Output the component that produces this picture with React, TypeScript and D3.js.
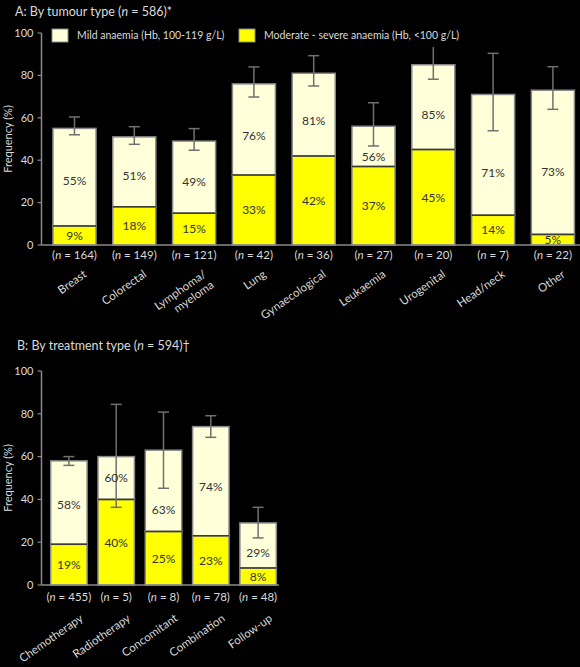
import { useEffect, useRef } from "react";
import * as d3 from "d3";

// ─── Data ─────────────────────────────────────────────────────────────────────

const TUMOUR_CATS = [
  "Breast",
  "Colorectal",
  "Lymphoma/|myeloma",
  "Lung",
  "Gynaecological",
  "Leukaemia",
  "Urogenital",
  "Head/neck",
  "Other",
];
const TUMOUR_N = [164, 149, 121, 42, 36, 27, 20, 7, 22];
const TUMOUR_TOTAL = [55, 51, 49, 76, 81, 56, 85, 71, 73];
const TUMOUR_MODERATE = [9, 18, 15, 33, 42, 37, 45, 14, 5];
const TUMOUR_ERR_LO = [52, 47.5, 44.7, 69.8, 75, 46.7, 78.2, 53.9, 64];
const TUMOUR_ERR_HI = [60.4, 55.8, 54.9, 84, 89.3, 67.1, 94.5, 90.4, 84.1];

const TREAT_CATS = [
  "Chemotherapy",
  "Radiotherapy",
  "Concomitant",
  "Combination",
  "Follow-up",
];
const TREAT_N = [455, 5, 8, 78, 48];
const TREAT_TOTAL = [58, 60, 63, 74, 29];
const TREAT_MODERATE = [19, 40, 25, 23, 8];
const TREAT_ERR_LO = [55.9, 36.3, 45.2, 69, 22];
const TREAT_ERR_HI = [60, 84.4, 80.8, 79.1, 36.3];

const Y_TICKS = [0, 20, 40, 60, 80, 100];

// ─── Palette ──────────────────────────────────────────────────────────────────

const BG = "#000000";
const MILD = "#FFFFD9";
const MODERATE = "#FFFF00";
const OUTLINE = "#8a8a8a";
const DIVIDER = "#3a3a3a";
const ERR = "#707070";
const TEXT = "#dadada";
const INNER_TEXT = "#333333";
const FONT = "Lato, 'DejaVu Sans', sans-serif";

type Panel = {
  cats: string[];
  n: number[];
  total: number[];
  moderate: number[];
  lo: number[];
  hi: number[];
  x0: number;
  x1: number;
  axisEnd: number;
  yTop: number;
  yBottom: number;
  padInner: number;
  padOuter: number;
  labelDx: number;
  labelY: number;
  nY: number;
};

function drawPanel(svg: d3.Selection<SVGSVGElement, unknown, null, undefined>, p: Panel) {
  const g = svg.append("g");
  const x = d3
    .scaleBand<number>()
    .domain(d3.range(p.cats.length))
    .range([p.x0, p.x1])
    .paddingInner(p.padInner)
    .paddingOuter(p.padOuter);
  const y = d3.scaleLinear().domain([0, 100]).range([p.yBottom, p.yTop]);
  const axisX = 41.5;

  // y axis
  g.append("line")
    .attr("x1", axisX)
    .attr("x2", axisX)
    .attr("y1", y(100))
    .attr("y2", y(0))
    .attr("stroke", OUTLINE)
    .attr("stroke-width", 1.5);
  Y_TICKS.forEach((t) => {
    g.append("line")
      .attr("x1", axisX - 4)
      .attr("x2", axisX)
      .attr("y1", y(t))
      .attr("y2", y(t))
      .attr("stroke", OUTLINE)
      .attr("stroke-width", 1.2);
    g.append("text")
      .attr("x", axisX - 8)
      .attr("y", y(t))
      .attr("dy", "0.35em")
      .attr("text-anchor", "end")
      .attr("font-size", 11)
      .attr("fill", TEXT)
      .text(t);
  });
  g.append("text")
    .attr("transform", `translate(12,${(y(0) + y(100)) / 2}) rotate(-90)`)
    .attr("text-anchor", "middle")
    .attr("font-size", 11)
    .attr("fill", TEXT)
    .text("Frequency (%)");

  // bars
  p.cats.forEach((_, i) => {
    const bx = x(i)!;
    const bw = x.bandwidth();
    g.append("rect")
      .attr("x", bx)
      .attr("y", y(p.total[i]))
      .attr("width", bw)
      .attr("height", y(p.moderate[i]) - y(p.total[i]))
      .attr("fill", MILD)
      .attr("stroke", OUTLINE)
      .attr("stroke-width", 1.5);
    g.append("rect")
      .attr("x", bx)
      .attr("y", y(p.moderate[i]))
      .attr("width", bw)
      .attr("height", y(0) - y(p.moderate[i]))
      .attr("fill", MODERATE)
      .attr("stroke", OUTLINE)
      .attr("stroke-width", 1.5);
    g.append("line")
      .attr("x1", bx)
      .attr("x2", bx + bw)
      .attr("y1", y(p.moderate[i]))
      .attr("y2", y(p.moderate[i]))
      .attr("stroke", DIVIDER)
      .attr("stroke-width", 1.5);
  });

  // baseline
  g.append("line")
    .attr("x1", axisX)
    .attr("x2", p.axisEnd)
    .attr("y1", y(0))
    .attr("y2", y(0))
    .attr("stroke", OUTLINE)
    .attr("stroke-width", 1.5);

  // error bars
  p.cats.forEach((_, i) => {
    const cx = x(i)! + x.bandwidth() / 2;
    g.append("line")
      .attr("x1", cx)
      .attr("x2", cx)
      .attr("y1", y(p.hi[i]))
      .attr("y2", y(p.lo[i]))
      .attr("stroke", ERR)
      .attr("stroke-width", 1.5);
    [p.hi[i], p.lo[i]].forEach((v) => {
      g.append("line")
        .attr("x1", cx - 5.5)
        .attr("x2", cx + 5.5)
        .attr("y1", y(v))
        .attr("y2", y(v))
        .attr("stroke", ERR)
        .attr("stroke-width", 1.5);
    });
  });

  // value labels (mild label sits below the error bar when there is room)
  p.cats.forEach((_, i) => {
    const cx = x(i)! + x.bandwidth() / 2;
    const top = p.lo[i] > p.moderate[i] ? Math.min(p.total[i], p.lo[i]) : p.total[i];
    g.append("text")
      .attr("x", cx)
      .attr("y", (y(top) + y(p.moderate[i])) / 2)
      .attr("dy", "0.36em")
      .attr("text-anchor", "middle")
      .attr("font-size", 12)
      .attr("fill", INNER_TEXT)
      .text(`${p.total[i]}%`);
    g.append("text")
      .attr("x", cx)
      .attr("y", (y(p.moderate[i]) + y(0)) / 2)
      .attr("dy", "0.36em")
      .attr("text-anchor", "middle")
      .attr("font-size", 12)
      .attr("fill", INNER_TEXT)
      .text(`${p.moderate[i]}%`);
  });

  // n labels + category labels
  p.cats.forEach((c, i) => {
    const cx = x(i)! + x.bandwidth() / 2;
    const t = g
      .append("text")
      .attr("x", cx)
      .attr("y", p.nY)
      .attr("text-anchor", "middle")
      .attr("font-size", 11.5)
      .attr("fill", TEXT);
    t.append("tspan").text("(");
    t.append("tspan").attr("font-style", "italic").text("n");
    t.append("tspan").text(` = ${p.n[i]})`);

    const lab = g
      .append("text")
      .attr("transform", `translate(${cx + p.labelDx},${p.labelY}) rotate(-35)`)
      .attr("text-anchor", "end")
      .attr("font-size", 11.5)
      .attr("fill", TEXT);
    c.split("|").forEach((line, li) => {
      lab.append("tspan").attr("x", 0).attr("dy", li === 0 ? 0 : "1.15em").text(line);
    });
  });
}

function title(
  svg: d3.Selection<SVGSVGElement, unknown, null, undefined>,
  x: number,
  y: number,
  pre: string,
  post: string,
) {
  const t = svg
    .append("text")
    .attr("x", x)
    .attr("y", y)
    .attr("font-size", 12.5)
    .attr("fill", TEXT);
  t.append("tspan").text(pre);
  t.append("tspan").attr("font-style", "italic").text("n");
  t.append("tspan").text(post);
}

export default function App() {
  const svgRef = useRef<SVGSVGElement>(null);

  useEffect(() => {
    document.body.style.margin = "0";
    document.body.style.background = BG;
    if (!svgRef.current) return;
    const svg = d3.select(svgRef.current);
    svg.selectAll("*").remove();
    svg.attr("font-family", FONT);

    svg.append("rect").attr("width", 580).attr("height", 667).attr("fill", BG);

    title(svg, 15, 16, "A: By tumour type (", " = 586)*");

    drawPanel(svg, {
      cats: TUMOUR_CATS,
      n: TUMOUR_N,
      total: TUMOUR_TOTAL,
      moderate: TUMOUR_MODERATE,
      lo: TUMOUR_ERR_LO,
      hi: TUMOUR_ERR_HI,
      x0: 44.6,
      x1: 582.8,
      axisEnd: 580,
      yTop: 33,
      yBottom: 245,
      padInner: 0.28,
      padOuter: 0.14,
      labelDx: 13,
      labelY: 276,
      nY: 259,
    });

    // legend (black backing hides the clipped error cap, as in the original)
    const leg = svg.append("g");
    leg.append("rect").attr("x", 46).attr("y", 24).attr("width", 420).attr("height", 23).attr("fill", BG);
    const items = [
      { fill: MILD, x: 52, label: "Mild anaemia (Hb, 100-119 g/L)" },
      { fill: MODERATE, x: 239, label: "Moderate - severe anaemia (Hb, <100 g/L)" },
    ];
    items.forEach((it) => {
      leg.append("rect")
        .attr("x", it.x)
        .attr("y", 29)
        .attr("width", 16)
        .attr("height", 13)
        .attr("fill", it.fill)
        .attr("stroke", OUTLINE)
        .attr("stroke-width", 1);
      leg.append("text")
        .attr("x", it.x + 25)
        .attr("y", 35.5)
        .attr("dy", "0.35em")
        .attr("font-size", 10.5)
        .attr("fill", TEXT)
        .text(it.label);
    });

    title(svg, 17, 350, "B: By treatment type (", " = 594)\u2020");

    drawPanel(svg, {
      cats: TREAT_CATS,
      n: TREAT_N,
      total: TREAT_TOTAL,
      moderate: TREAT_MODERATE,
      lo: TREAT_ERR_LO,
      hi: TREAT_ERR_HI,
      x0: 45,
      x1: 282,
      axisEnd: 279,
      yTop: 371,
      yBottom: 585,
      padInner: 0.23,
      padOuter: 0.12,
      labelDx: 15,
      labelY: 620,
      nY: 601,
    });
  }, []);

  return (
    <div style={{ background: BG, width: 580, height: 667 }}>
      <svg ref={svgRef} width={580} height={667} style={{ display: "block" }} />
    </div>
  );
}
